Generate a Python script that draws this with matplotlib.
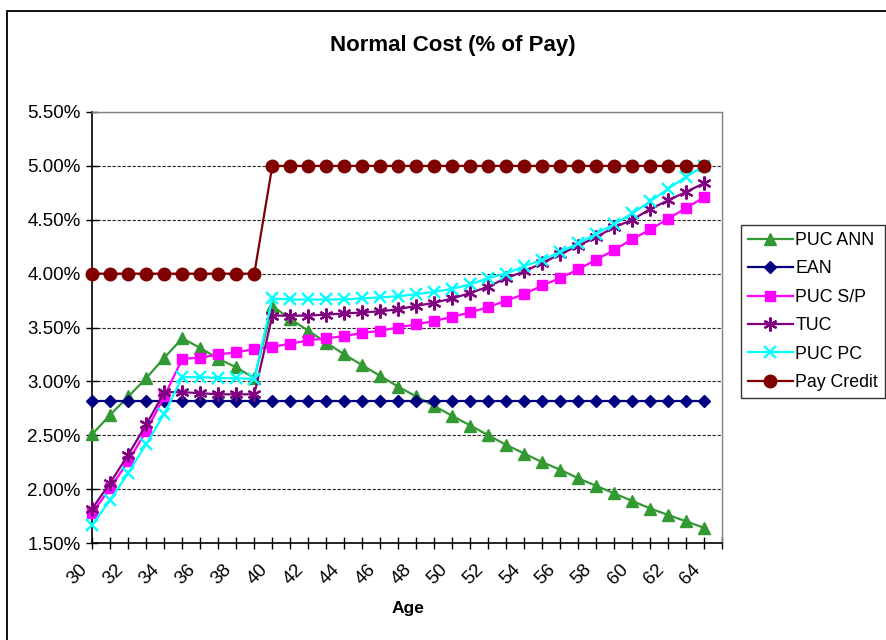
import matplotlib
matplotlib.use("Agg")
import matplotlib.pyplot as plt
from matplotlib.patches import Rectangle
from matplotlib.transforms import ScaledTranslation
from matplotlib.ticker import FuncFormatter, MultipleLocator

plt.rcParams['font.family'] = ['Liberation Sans', 'DejaVu Sans']

ages = list(range(30, 65))

puc_ann = [2.51, 2.69, 2.86, 3.03, 3.22, 3.40, 3.31, 3.21, 3.13, 3.03,
           3.70, 3.58, 3.47, 3.36, 3.25, 3.15, 3.05, 2.95, 2.86, 2.77,
           2.68, 2.59, 2.50, 2.41, 2.33, 2.25, 2.18, 2.10, 2.03, 1.96,
           1.89, 1.82, 1.76, 1.70, 1.64]
ean = [2.82] * 35
puc_sp = [1.78, 2.01, 2.26, 2.54, 2.86, 3.21, 3.22, 3.25, 3.27, 3.30,
          3.32, 3.35, 3.38, 3.40, 3.42, 3.45, 3.47, 3.50, 3.53, 3.56,
          3.60, 3.64, 3.69, 3.75, 3.81, 3.89, 3.96, 4.04, 4.13, 4.22,
          4.32, 4.41, 4.51, 4.61, 4.71]
tuc = [1.82, 2.06, 2.32, 2.60, 2.90, 2.90, 2.89, 2.88, 2.88, 2.88,
       3.61, 3.61, 3.61, 3.62, 3.63, 3.64, 3.65, 3.67, 3.70, 3.73,
       3.77, 3.82, 3.88, 3.96, 4.02, 4.10, 4.18, 4.26, 4.34, 4.43,
       4.50, 4.60, 4.68, 4.76, 4.84]
puc_pc = [1.67, 1.90, 2.15, 2.42, 2.70, 3.04, 3.04, 3.03, 3.03, 3.02,
          3.77, 3.76, 3.76, 3.76, 3.76, 3.77, 3.78, 3.79, 3.81, 3.83,
          3.86, 3.90, 3.96, 4.00, 4.07, 4.13, 4.20, 4.28, 4.37, 4.46,
          4.56, 4.67, 4.79, 4.90, 5.00]
pay_credit = [4.00] * 10 + [5.00] * 25

series_names = ["PUC ANN", "EAN", "PUC S/P", "TUC", "PUC PC", "Pay Credit"]
title = "Normal Cost (% of Pay)"
xlabel = "Age"

W, H = 886, 640
fig = plt.figure(figsize=(W / 100, H / 100), dpi=100)
fig.patch.set_facecolor('white')

# outer chart border
fig.patches.append(Rectangle((7 / W, -0.1), 2.0, (H - 11) / H + 0.1,
                             transform=fig.transFigure, fill=False,
                             edgecolor='black', linewidth=1.3))

left, right, top, bottom = 92.3, 722.3, 112, 543
ax = fig.add_axes([left / W, (H - bottom) / H, (right - left) / W, (bottom - top) / H])

styles = [
    dict(color='#339933', marker='^', ms=8.5, mec='#339933', mfc='#339933'),
    dict(color='#000080', marker='D', ms=6, mec='#000080', mfc='#000080'),
    dict(color='#FF00FF', marker='s', ms=7.5, mec='#FF00FF', mfc='#FF00FF'),
    dict(color='#800080', marker=(6, 2, 0), ms=10, mec='#800080', mew=1.6),
    dict(color='#00FFFF', marker='x', ms=8.5, mec='#00FFFF', mew=1.7),
    dict(color='#800000', marker='o', ms=9, mec='#800000', mfc='#800000'),
]
data = [puc_ann, ean, puc_sp, tuc, puc_pc, pay_credit]
for i, (vals, name, st) in enumerate(zip(data, series_names, styles)):
    ax.plot(ages, vals, label=name, lw=1.6, zorder=3 + i, clip_on=False, **st)

ax.set_xlim(30, 65)
ax.set_ylim(1.5, 5.5)
ax.yaxis.set_major_locator(MultipleLocator(0.5))
ax.yaxis.set_major_formatter(FuncFormatter(lambda v, p: f"{v:.2f}%"))
ax.set_xticks(list(range(30, 66)))
ax.set_xticklabels([str(a) if (a % 2 == 0 and a < 65) else '' for a in range(30, 66)],
                   rotation=45, ha='right', va='center', rotation_mode='anchor')
ax.tick_params(axis='both', direction='inout', length=8.5, width=1, colors='black',
               labelsize=13.5)
ax.tick_params(axis='x', pad=13)
ax.tick_params(axis='y', pad=4)
for lab in ax.get_xticklabels():
    lab.set_transform(lab.get_transform() + ScaledTranslation(-7 / 100, 0, fig.dpi_scale_trans))

ax.yaxis.grid(True, color='#222222', linestyle=(0, (3, 1.5)), linewidth=0.8)
ax.set_axisbelow(True)
for s in ['left', 'bottom']:
    ax.spines[s].set_color('black')
    ax.spines[s].set_linewidth(1.2)
    ax.spines[s].set_zorder(2.5)
for s in ['top', 'right']:
    ax.spines[s].set_color('#808080')
    ax.spines[s].set_linewidth(1.0)

fig.text(453 / W, 1 - 46 / H, title, ha='center', va='center',
         fontsize=16, fontweight='bold')
fig.text(407.7 / W, 1 - 609 / H, xlabel, ha='center', va='center',
         fontsize=12.5, fontweight='bold')

leg = fig.legend(loc='upper left', bbox_to_anchor=(741 / W, 1 - 225 / H),
                 bbox_transform=fig.transFigure, fontsize=12.8, frameon=True,
                 fancybox=False, shadow=False, borderpad=0.4, labelspacing=0.64,
                 handlelength=2.5, handletextpad=0.15, borderaxespad=0)
leg.get_frame().set_edgecolor('black')
leg.get_frame().set_linewidth(1.0)

fig.savefig('out.png', dpi=100)
